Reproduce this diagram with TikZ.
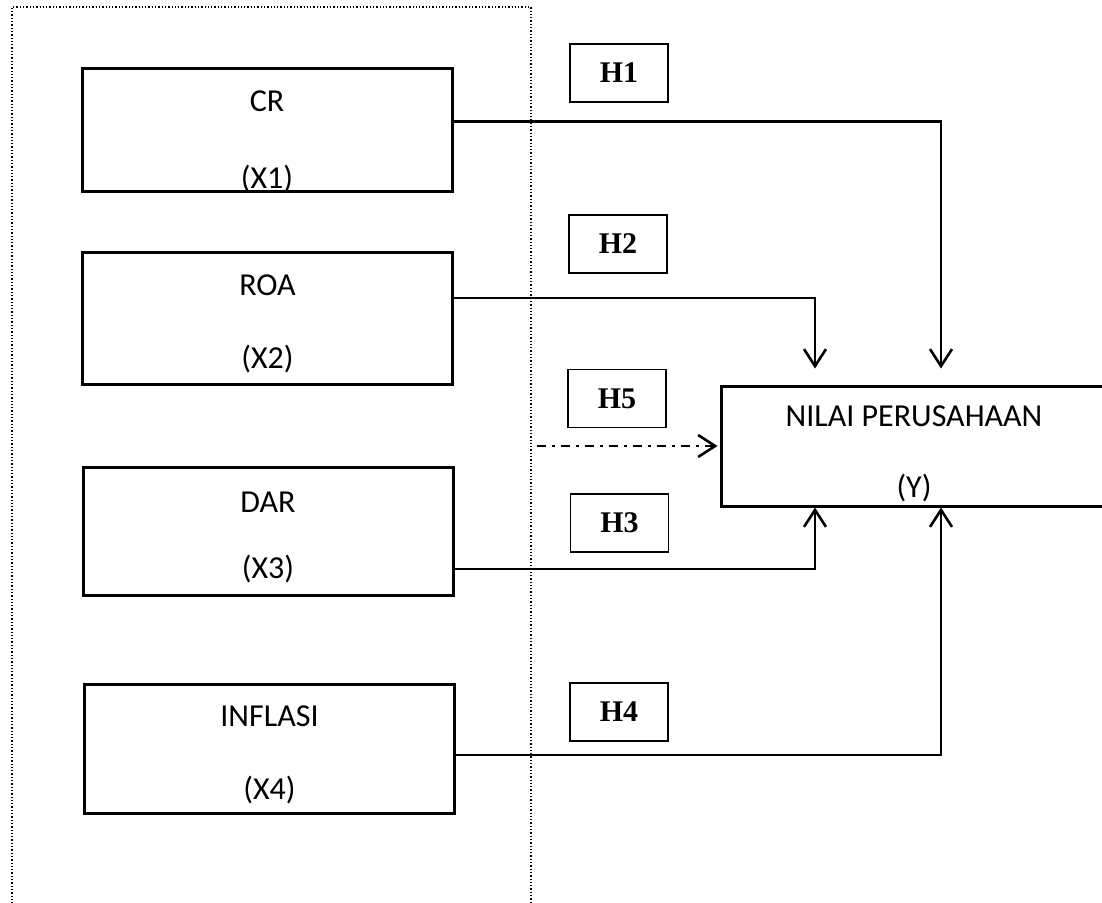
\documentclass[tikz,border=0pt]{standalone}
\usepackage{fontspec}
\setmainfont{Carlito}
\newfontfamily\hypfont{Liberation Serif}
\usetikzlibrary{arrows.meta}

\tikzset{
  varbox/.style={draw,line width=3pt,minimum width=370pt,align=center,
    inner sep=0pt,font=\fontsize{32}{36}\selectfont},
  hypbox/.style={draw,line width=1.6pt,minimum width=98pt,minimum height=58pt,
    inner sep=0pt,font=\hypfont\bfseries\fontsize{30}{36}\selectfont},
  link/.style={line width=2.6pt,-{Straight Barb[length=17pt,width=22pt]}},
}

\begin{document}
\begin{tikzpicture}[x=1pt,y=-1pt]
  \useasboundingbox (0,0) rectangle (1102,902);
  % dotted frame round the independent variables
  \draw[dotted,line width=1.3pt] (12,910) -- (12,7) -- (531,7) -- (531,910);

  % variables
  \node[varbox,minimum height=123pt] (cr) at (267,129.5) {\rule{0pt}{40pt}CR\\[41pt]\smash{(X1)}};
  \node[varbox,minimum height=132pt] (roa) at (267.5,318) {\rule{0pt}{33pt}ROA\\[37pt](X2)};
  \node[varbox,minimum height=128pt] (dar) at (268,531) {\rule{0pt}{33pt}DAR\\[30pt](X3)};
  \node[varbox,minimum height=129pt] (inf) at (269.5,748.5) {\rule{0pt}{33pt}INFLASI\\[37pt](X4)};
  \node[varbox,minimum width=386pt,minimum height=120pt] (nilai) at (914,446)
    {\rule{0pt}{37pt}NILAI PERUSAHAAN\\[35pt](Y)};

  % hypotheses
  \node[hypbox] (h1) at (619,73) {H1};
  \node[hypbox] (h2) at (618,244) {H2};
  \node[hypbox] (h5) at (617,398.5) {H5};
  \node[hypbox] (h3) at (619.5,523) {H3};
  \node[hypbox] (h4) at (619,712) {H4};

  % paths
  \draw[link] ([yshift=8pt]cr.east) -| ([xshift=27pt,yshift=16pt]nilai.north);
  \draw[link] ([yshift=20pt]roa.east) -| ([xshift=-99pt,yshift=16pt]nilai.north);
  \draw[link] ([yshift=-38pt]dar.east) -| ([xshift=-99pt]nilai.south);
  \draw[link] ([yshift=-6.5pt]inf.east) -| ([xshift=27pt]nilai.south);
  \coordinate (h5tail) at (537,446);
  \draw[link,dash pattern=on 9pt off 6pt on 3pt off 6pt] (h5tail) -- ([xshift=-2pt]nilai.west);
\end{tikzpicture}
\end{document}
